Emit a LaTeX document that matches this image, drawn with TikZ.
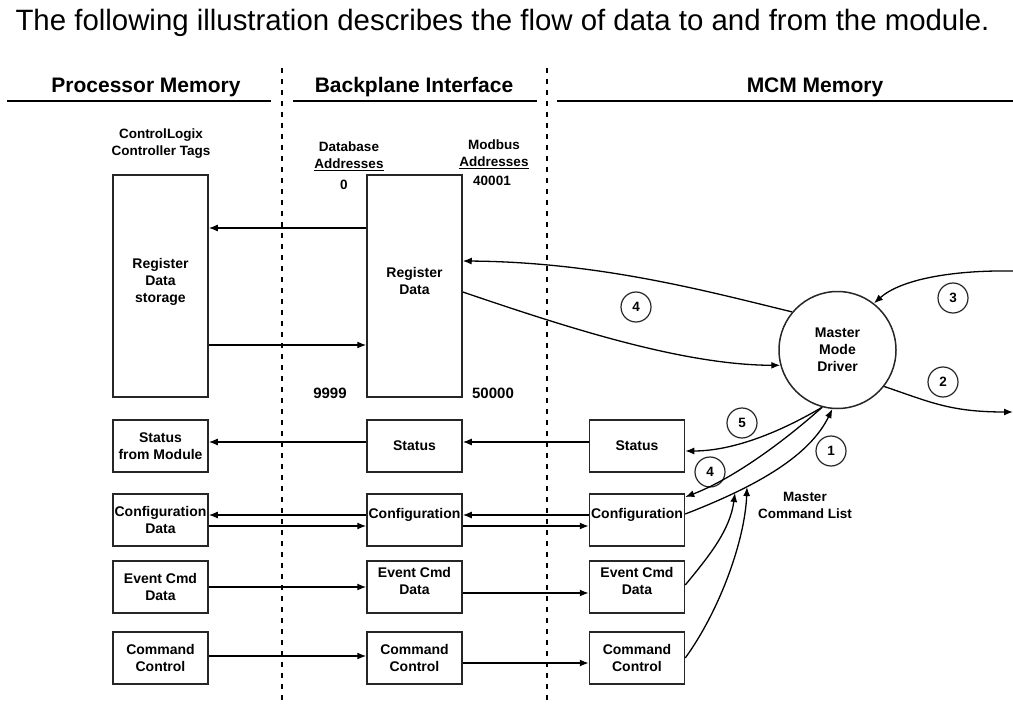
\documentclass[tikz,border=0pt]{standalone}
\usepackage{fontspec}
\setmainfont{Liberation Sans}
\usetikzlibrary{arrows.meta}

\begin{document}
\begin{tikzpicture}[
    x=1pt, y=-1pt,
    >={Latex[length=9pt,width=7pt]},
    caixa/.style={draw=black!85, line width=1.5pt, minimum width=95pt,
        minimum height=52pt, inner sep=0pt, align=center,
        font=\fontsize{14}{17}\selectfont\bfseries},
    alta/.style={caixa, minimum height=222pt},
    amunt/.style={text height=10pt, text depth=#1},
    amunt2/.style={text height=27pt, text depth=#1},
    etiq/.style={align=center, inner sep=0pt,
        font=\fontsize{13.5}{17}\selectfont\bfseries},
    fletxa/.style={->, line width=1.3pt},
    rodona/.style={circle, draw=black!85, line width=1.2pt, minimum size=30pt,
        inner sep=0pt, font=\fontsize{13.5}{13.5}\selectfont\bfseries},
    capcal/.style={anchor=base, font=\fontsize{21}{21}\selectfont\bfseries},
    divisio/.style={line width=1.5pt, dash pattern=on 5pt off 6pt}
]

\useasboundingbox (0,0) rectangle (1013,706);

% Frase inicial
\node[
    anchor=base west,
    font=\fontsize{29.4}{29.4}\selectfont
] (frase) at (12,31) {The following illustration describes the flow of data to and from the module.};

% Capçaleres
\node[capcal] (hproc) at (146,93) {Processor Memory};
\node[capcal] (hback) at (414,93) {Backplane Interface};
\node[capcal] (hmcm) at (815,93) {MCM Memory};
\draw[line width=1.3pt] (7,101) -- (271,101);
\draw[line width=1.3pt] (293,101) -- (537,101);
\draw[line width=1.3pt] (557,101) -- (1013,101);

% Divisions
\draw[divisio] (282,68) -- (282,706);
\draw[divisio] (547,68) -- (547,706);

% Etiquetes d'adreces
\node[etiq] (tags) at (161,144) {ControlLogix\\Controller Tags};
\node[etiq] (dbaddr) at (349,156) {Database\\\underline{Addresses}};
\node[etiq] (mbaddr) at (494,154) {Modbus\\\underline{Addresses}};
\node[etiq] (d0) at (344,185) {0};
\node[etiq] (m40001) at (492,181) {40001};
\node[etiq, font=\fontsize{15}{17}\selectfont\bfseries] (d9999) at (330,393) {9999};
\node[etiq, font=\fontsize{15}{17}\selectfont\bfseries] (m50000) at (493,393) {50000};

% Registres
\node[alta, text height=44pt, text depth=11pt] (procreg) at (160.5,286) {Register\\Data\\storage};
\node[alta, amunt2=10pt] (bpreg) at (414.5,286) {Register\\Data};

% Estat
\node[caixa] (procstat) at (160.5,446) {Status\\from Module};
\node[caixa] (bpstat) at (414.5,446) {Status};
\node[caixa] (mcmstat) at (637,446) {Status};

% Configuració
\node[caixa] (proccfg) at (160.5,520) {Configuration\\Data};
\node[caixa, amunt=13pt] (bpcfg) at (414.5,520) {Configuration};
\node[caixa, amunt=13pt] (mcmcfg) at (637,520) {Configuration};

% Ordres d'esdeveniment
\node[caixa] (procevt) at (160.5,587) {Event Cmd\\Data};
\node[caixa, amunt2=12pt] (bpevt) at (414.5,587) {Event Cmd\\Data};
\node[caixa, amunt2=12pt] (mcmevt) at (637,587) {Event Cmd\\Data};

% Control d'ordres
\node[caixa] (proccmd) at (160.5,658) {Command\\Control};
\node[caixa] (bpcmd) at (414.5,658) {Command\\Control};
\node[caixa] (mcmcmd) at (637,658) {Command\\Control};

% Controlador mestre
\node[
    circle,
    draw=black!85,
    line width=1.5pt,
    minimum size=117pt,
    inner sep=0pt,
    align=center,
    font=\fontsize{14}{17}\selectfont\bfseries
] (driver) at (837.5,350) {Master\\Mode\\Driver};

\node[etiq] (mcl) at (805,505) {Master\\Command List};

% Números dels passos
\node[rodona] (n1) at (831,451) {1};
\node[rodona] (n2) at (943,382) {2};
\node[rodona] (n3) at (953,298) {3};
\node[rodona] (n4a) at (636,307) {4};
\node[rodona] (n4b) at (710,472) {4};
\node[rodona] (n5) at (742,423) {5};

% Extrems lliures
\coordinate (entra) at (1013,271);
\coordinate (surt) at (1013,412);
\coordinate (mcla) at (735,493);
\coordinate (mclb) at (747,487);

% Fletxes rectes
\draw[fletxa] ([yshift=58pt]bpreg.west) -- ([yshift=58pt]procreg.east);
\draw[fletxa] ([yshift=-59pt]procreg.east) -- ([yshift=-59pt]bpreg.west);
\draw[fletxa] ([yshift=4pt]bpstat.west) -- ([yshift=4pt]procstat.east);
\draw[fletxa] ([yshift=4pt]mcmstat.west) -- ([yshift=4pt]bpstat.east);
\draw[fletxa] ([yshift=5pt]bpcfg.west) -- ([yshift=5pt]proccfg.east);
\draw[fletxa] ([yshift=-6pt]proccfg.east) -- ([yshift=-6pt]bpcfg.west);
\draw[fletxa] ([yshift=5pt]mcmcfg.west) -- ([yshift=5pt]bpcfg.east);
\draw[fletxa] ([yshift=-6pt]bpcfg.east) -- ([yshift=-6pt]mcmcfg.west);
\draw[fletxa] (procevt.east) -- (bpevt.west);
\draw[fletxa] ([yshift=-6pt]bpevt.east) -- ([yshift=-6pt]mcmevt.west);
\draw[fletxa] ([yshift=2pt]proccmd.east) -- ([yshift=2pt]bpcmd.west);
\draw[fletxa] ([yshift=-5pt]bpcmd.east) -- ([yshift=-5pt]mcmcmd.west);

% Fletxes corbes
\draw[fletxa] (driver.140) .. controls (710,292) and (600,262) .. ([yshift=25pt]bpreg.east);
\draw[fletxa] ([yshift=-6pt]bpreg.east) .. controls (560,325) and (680,365) .. (driver.195);
\draw[fletxa] (entra) .. controls (950,270) and (900,280) .. (driver.52);
\draw[fletxa] (driver.322) .. controls (930,402) and (950,412) .. (surt);
\draw[fletxa] (driver.255) .. controls (775,435) and (730,451) .. ([yshift=-5pt]mcmstat.east);
\draw[fletxa] (driver.255) .. controls (780,445) and (730,480) .. ([yshift=23pt]mcmcfg.east);
\draw[fletxa] ([yshift=6pt]mcmcfg.east) .. controls (760,485) and (810,455) .. (driver.265);
\draw[fletxa] ([yshift=2pt]mcmevt.east) .. controls (710,555) and (730,530) .. (mcla);
\draw[fletxa] (mcmcmd.east) .. controls (720,610) and (745,540) .. (mclb);

\end{tikzpicture}
\end{document}
